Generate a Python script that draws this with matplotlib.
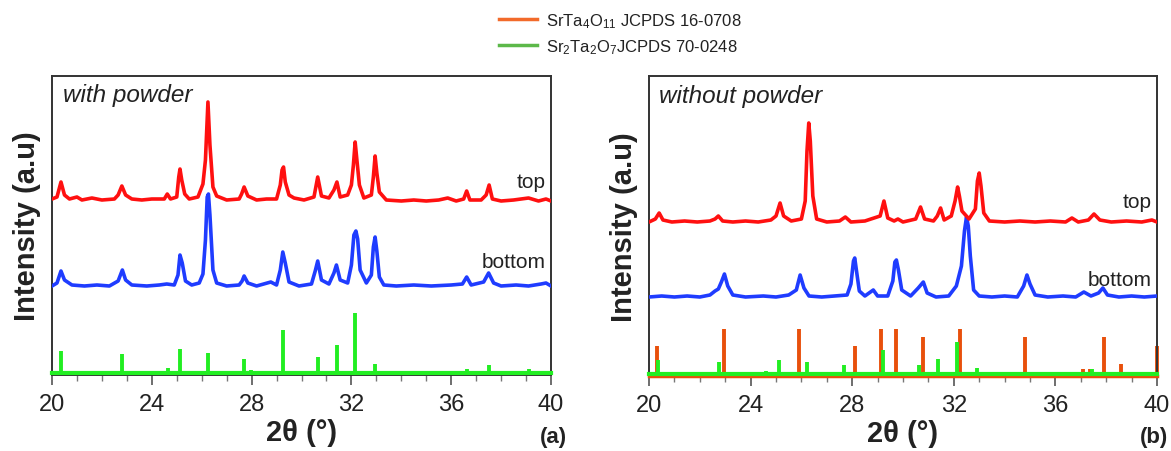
#!/usr/bin/env python3
"""
XRD patterns of the films, top and bottom, with and without powder,
with the JCPDS reference sticks underneath.
"""
import matplotlib
matplotlib.use('Agg')
import matplotlib.pyplot as plt
from matplotlib.lines import Line2D
from matplotlib.ticker import MultipleLocator

plt.rcParams['font.family'] = ['Liberation Sans', 'DejaVu Sans']
plt.rcParams['mathtext.fontset'] = 'custom'
plt.rcParams['mathtext.rm'] = 'Liberation Sans'
plt.rcParams['mathtext.it'] = 'Liberation Sans:italic'

# ---- (a) with powder -------------------------------------------------------
a_top_x = [20.0, 20.2, 20.36, 20.5, 20.7, 21.0, 21.2, 21.6, 22.0, 22.5, 22.65, 22.8, 22.95, 23.2,
           23.6, 24.0, 24.5, 24.62, 24.75, 25.0, 25.08, 25.13, 25.2, 25.32, 25.5, 25.85, 26.05,
           26.15, 26.25, 26.33, 26.45, 26.6, 27.0, 27.5, 27.6, 27.7, 27.85, 28.2, 28.6, 29.0,
           29.15, 29.22, 29.28, 29.35, 29.5, 29.7, 30.1, 30.5, 30.65, 30.8, 31.1, 31.3, 31.42,
           31.55, 31.85, 32.0, 32.08, 32.15, 32.22, 32.32, 32.5, 32.8, 32.88, 32.95, 33.02, 33.12,
           33.4, 34.0, 34.5, 35.0, 35.5, 35.86, 36.2, 36.5, 36.62, 36.75, 37.2, 37.4, 37.52,
           37.65, 38.0, 38.5, 39.1, 39.5, 39.8, 40.0]
a_top_y = [176, 178, 193, 180, 176, 178, 175, 177, 175, 176, 180, 189, 180, 176,
           175, 176, 176, 181, 176, 178, 198, 206, 195, 181, 176, 178, 191,
           215, 273, 230, 188, 179, 175, 176, 181, 188, 179, 175, 176, 176,
           190, 205, 208, 193, 180, 177, 175, 178, 198, 179, 177, 185, 193,
           178, 180, 190, 210, 233, 215, 190, 177, 180, 198, 219, 202, 183,
           175, 174, 175, 174, 175, 177, 174, 176, 184, 175, 175, 180, 190,
           176, 174, 175, 177, 174, 176, 174]

a_bot_x = [20.0, 20.2, 20.36, 20.5, 20.8, 21.3, 21.8, 22.3, 22.65, 22.82, 22.95, 23.2, 23.8, 24.3,
           24.6, 24.9, 25.05, 25.13, 25.22, 25.35, 25.6, 25.9, 26.05, 26.15, 26.22, 26.27, 26.33,
           26.45, 26.6, 27.0, 27.5, 27.62, 27.7, 27.85, 28.2, 28.77, 29.0, 29.15, 29.25, 29.35,
           29.5, 29.9, 30.4, 30.55, 30.65, 30.8, 31.1, 31.3, 31.4, 31.55, 31.85, 32.0, 32.1,
           32.18, 32.25, 32.35, 32.6, 32.8, 32.88, 32.95, 33.02, 33.12, 33.3, 33.8, 34.5, 35.2,
           36.0, 36.45, 36.62, 36.8, 37.3, 37.5, 37.7, 38.0, 38.6, 39.1, 39.6, 39.8, 40.0]
a_bot_y = [89, 92, 104, 95, 90, 89, 90, 89, 94, 105, 95, 90, 89, 90,
           91, 90, 100, 120, 112, 94, 90, 92, 101, 135, 178, 181, 160,
           105, 92, 89, 90, 94, 99, 92, 89, 93, 90, 105, 123, 112,
           93, 89, 91, 104, 114, 95, 91, 102, 110, 95, 92, 110, 140,
           144, 136, 105, 92, 100, 128, 138, 124, 98, 90, 89, 90, 89,
           90, 91, 98, 90, 93, 102, 92, 89, 90, 89, 91, 92, 89]

# Sr2Ta2O7 JCPDS 70-0248 sticks as seen in panel (a)
a_s227_pos = [20.36, 22.8, 24.64, 25.13, 26.24, 27.7, 27.96, 29.26, 30.65, 31.41, 32.14, 32.95,
              36.07, 36.62, 37.3, 37.52, 39.1, 39.8]
a_s227_int = [22, 19, 5, 24, 20, 14, 3, 43, 16, 28, 60, 9, 2, 4, 2, 8, 4, 2]

# ---- (b) without powder ----------------------------------------------------
b_top_x = [20.0, 20.25, 20.4, 20.55, 20.9, 21.4, 21.9, 22.4, 22.6, 22.73, 22.9, 23.3, 23.8, 24.3,
           24.8, 25.0, 25.16, 25.3, 25.6, 26.0, 26.15, 26.22, 26.29, 26.35, 26.45, 26.6, 27.0,
           27.5, 27.73, 27.95, 28.5, 29.1, 29.25, 29.4, 29.65, 29.8, 30.0, 30.5, 30.69, 30.85,
           31.2, 31.35, 31.48, 31.62, 31.9, 32.05, 32.15, 32.22, 32.32, 32.6, 32.85, 32.93, 33.0,
           33.07, 33.18, 33.4, 34.0, 34.6, 35.2, 35.8, 36.4, 36.65, 36.9, 37.3, 37.52, 37.75,
           38.2, 38.8, 39.4, 39.8, 40.0]
b_top_y = [154, 157, 163, 156, 154, 155, 154, 155, 157, 160, 155, 154, 155, 154,
           156, 160, 173, 160, 155, 157, 175, 225, 253, 235, 180, 157, 154,
           155, 159, 154, 155, 160, 175, 158, 155, 157, 154, 157, 169, 157,
           155, 160, 168, 156, 160, 175, 189, 180, 165, 157, 167, 195, 203,
           190, 163, 155, 154, 155, 154, 155, 154, 158, 154, 156, 162, 156,
           154, 155, 154, 156, 154]

b_bot_x = [20.0, 20.5, 21.0, 21.5, 22.0, 22.4, 22.6, 22.73, 22.85, 22.97, 23.1, 23.3, 23.8, 24.5,
           25.0, 25.5, 25.8, 25.95, 26.1, 26.3, 26.8, 27.3, 27.8, 27.95, 28.05, 28.1, 28.17,
           28.28, 28.5, 28.83, 29.0, 29.4, 29.6, 29.68, 29.74, 29.82, 29.95, 30.3, 30.6, 30.8,
           30.95, 31.3, 31.8, 32.1, 32.3, 32.42, 32.5, 32.57, 32.65, 32.78, 33.0, 33.5, 34.0,
           34.5, 34.75, 34.88, 35.0, 35.2, 35.7, 36.3, 36.8, 37.12, 37.4, 37.7, 37.87, 38.05,
           38.5, 39.0, 39.5, 40.0]
b_bot_y = [79, 80, 79, 80, 79, 81, 85, 87, 94, 102, 90, 81, 79, 80,
           79, 81, 86, 101, 88, 80, 79, 80, 81, 92, 115, 118, 105,
           85, 80, 86, 80, 80, 95, 114, 116, 106, 86, 80, 88, 94,
           83, 79, 80, 90, 110, 145, 159, 150, 120, 86, 80, 79, 80,
           79, 90, 101, 92, 81, 79, 80, 79, 84, 80, 83, 88, 81,
           79, 80, 79, 80]

# SrTa4O11 JCPDS 16-0708 sticks
b_s2411_pos = [20.33, 22.94, 25.92, 28.11, 29.12, 29.72, 30.77, 32.24, 34.82, 37.07, 37.38,
               37.91, 38.57, 39.99]
b_s2411_int = [29, 46, 46, 29, 46, 46, 38, 46, 38, 6, 6, 38, 11, 29]

# Sr2Ta2O7 JCPDS 70-0248 sticks as seen in panel (b)
b_s227_pos = [20.34, 22.77, 24.6, 25.1, 26.22, 27.68, 29.22, 30.63, 31.39, 32.12, 32.93,
              36.6, 37.46, 39.1]
b_s227_int = [14, 12, 3, 14, 12, 9, 24, 9, 15, 32, 6, 2, 5, 2]

RED = '#ff1010'
BLUE = '#1f3cff'
GREEN = '#22ee22'
ORANGE = '#e8500c'


def style_axes(ax, ymax):
    ax.set_xlim(20, 40)
    ax.set_ylim(0, ymax)
    ax.set_yticks([])
    ax.xaxis.set_major_locator(MultipleLocator(4))
    ax.xaxis.set_minor_locator(MultipleLocator(1))
    ax.tick_params(axis='x', which='major', direction='out', length=7, width=1.2,
                   color='#555555', labelsize=17, pad=6, labelcolor='#222222')
    ax.tick_params(axis='x', which='minor', direction='out', length=4, width=1.0, color='#777777')
    for sp in ax.spines.values():
        sp.set_color('#333333')
        sp.set_linewidth(1.4)
    ax.set_xlabel(r'2θ (°)', fontsize=21, fontweight='bold', labelpad=2, color='#222222')
    ax.set_ylabel('Intensity (a.u)', fontsize=21, fontweight='bold', labelpad=8, color='#222222')


fig = plt.figure(figsize=(11.71, 4.52), dpi=100)
ax1 = fig.add_axes([52 / 1171, 76 / 452, 499 / 1171, 299 / 452])
ax2 = fig.add_axes([649 / 1171, 75 / 452, 508 / 1171, 300 / 452])

# --- Panel (a) ---
ax1.vlines(a_s227_pos, 2, [v + 2 for v in a_s227_int], color=GREEN, linewidth=2.8, zorder=2)
ax1.plot([20, 40], [2, 2], color=GREEN, linewidth=3, zorder=3, clip_on=False)
ax1.plot(a_bot_x, a_bot_y, color=BLUE, linewidth=2.6, zorder=4)
ax1.plot(a_top_x, a_top_y, color=RED, linewidth=2.6, zorder=4)
style_axes(ax1, 299)
ax1.text(0.022, 0.975, 'with powder', transform=ax1.transAxes, fontsize=17.5,
         fontstyle='italic', color='#222222', ha='left', va='top')
ax1.text(0.99, 193 / 299, 'top', transform=ax1.transAxes, fontsize=15,
         color='#222222', ha='right', va='center')
ax1.text(0.99, 113 / 299, 'bottom', transform=ax1.transAxes, fontsize=15,
         color='#222222', ha='right', va='center')

# --- Panel (b) ---
ax2.vlines(b_s2411_pos, 1, [v + 1 for v in b_s2411_int], color=ORANGE, linewidth=2.8,
           zorder=2, clip_on=False)
ax2.vlines(b_s227_pos, 2, [v + 2 for v in b_s227_int], color=GREEN, linewidth=2.8, zorder=3)
ax2.plot([20, 40], [0.5, 0.5], color=ORANGE, linewidth=2.5, zorder=3, clip_on=False)
ax2.plot([20, 40], [2.5, 2.5], color=GREEN, linewidth=3, zorder=3, clip_on=False)
ax2.plot(b_bot_x, b_bot_y, color=BLUE, linewidth=2.6, zorder=4)
ax2.plot(b_top_x, b_top_y, color=RED, linewidth=2.6, zorder=4)
style_axes(ax2, 300)
ax2.text(0.02, 0.975, 'without powder', transform=ax2.transAxes, fontsize=17.5,
         fontstyle='italic', color='#222222', ha='left', va='top')
ax2.text(0.99, 174 / 300, 'top', transform=ax2.transAxes, fontsize=15,
         color='#222222', ha='right', va='center')
ax2.text(0.99, 97 / 300, 'bottom', transform=ax2.transAxes, fontsize=15,
         color='#222222', ha='right', va='center')

fig.text(567 / 1171, 1 - 438 / 452, '(a)', fontsize=16, fontweight='bold',
         color='#222222', ha='right', va='center')
fig.text(1168 / 1171, 1 - 438 / 452, '(b)', fontsize=16, fontweight='bold',
         color='#222222', ha='right', va='center')

# legend for the reference cards
handles = [Line2D([], [], color='#f26a2a', linewidth=2.5),
           Line2D([], [], color='#5cb849', linewidth=2.5)]
labels = [r'SrTa$_4$O$_{11}$ JCPDS 16-0708', r'Sr$_2$Ta$_2$O$_7$JCPDS 70-0248']
fig.legend(handles, labels, loc='upper left', bbox_to_anchor=(499 / 1171, 1 - 12 / 452),
           frameon=False, fontsize=12, handlelength=2.3, handletextpad=0.5,
           borderpad=0, borderaxespad=0, labelspacing=0.45, labelcolor='#222222')

fig.savefig('out.png', dpi=100)
